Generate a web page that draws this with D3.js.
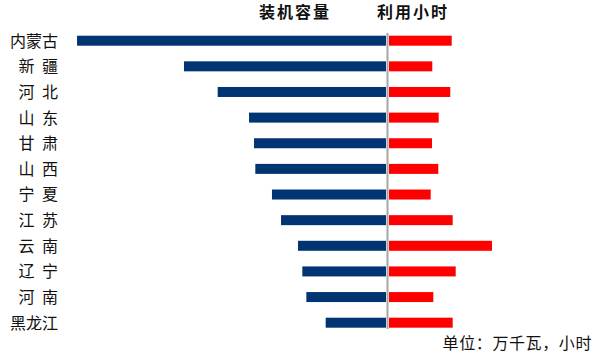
<!DOCTYPE html>
<html><head><meta charset="utf-8">
<script src="https://cdn.jsdelivr.net/npm/d3@7"></script>
<style>body{margin:0;background:#fff}svg{display:block}</style>
</head><body>
<script>
const provinces = ["内蒙古","新 疆","河 北","山 东","甘 肃","山 西","宁 夏","江 苏","云 南","辽 宁","河 南","黑龙江"];
const capacity = [3785,2475,2062,1678,1617,1601,1397,1286,1078,1025,976,739];
const hours = [1693,1169,1655,1342,1161,1331,1126,1720,2781,1801,1196,1720];
const titles = ["装机容量","利用小时"];
const unitLabel = "单位：万千瓦，小时";

const W=599,H=356;
const svg=d3.select("body").append("svg").attr("width",W).attr("height",H);
const font="'Noto Sans CJK SC','Noto Sans',sans-serif";

const y=d3.scalePoint().domain(provinces).range([40.7,322.7]);
const xL=d3.scaleLinear().domain([0,4000]).range([386,59.5]);
const xR=d3.scaleLinear().domain([0,3000]).range([389,500.1]);
const bh=10;

svg.append("g").selectAll("rect").data(provinces).join("rect")
  .attr("x",(d,i)=>xL(capacity[i])).attr("y",d=>y(d)-bh/2)
  .attr("width",(d,i)=>xL(0)-xL(capacity[i])).attr("height",bh)
  .attr("fill","#003473");
svg.append("g").selectAll("rect").data(provinces).join("rect")
  .attr("x",xR(0)).attr("y",d=>y(d)-bh/2)
  .attr("width",(d,i)=>xR(hours[i])-xR(0)).attr("height",bh)
  .attr("fill","#ff0000");

svg.append("line").attr("x1",387.5).attr("x2",387.5).attr("y1",33).attr("y2",329)
  .attr("stroke","#a6a6a6").attr("stroke-width",2);

svg.append("g").selectAll("text").data(provinces).join("text")
  .attr("x",58).attr("y",d=>y(d)).attr("dy","0.37em").attr("text-anchor","end")
  .attr("font-family",font).attr("font-size",16).attr("word-spacing","4px")
  .attr("fill","#111").text(d=>d);

svg.append("text").attr("x",331).attr("y",18).attr("text-anchor","end")
  .attr("font-family",font).attr("font-size",16).attr("letter-spacing","2px")
  .attr("font-weight","bold").attr("fill","#111").text(titles[0]);
svg.append("text").attr("x",377).attr("y",18).attr("text-anchor","start")
  .attr("font-family",font).attr("font-size",16).attr("letter-spacing","2px")
  .attr("font-weight","bold").attr("fill","#111").text(titles[1]);

svg.append("text").attr("x",592).attr("y",349).attr("text-anchor","end")
  .attr("font-family",font).attr("font-size",16).attr("letter-spacing","0.6px")
  .attr("fill","#111").text(unitLabel);
</script>
</body></html>
